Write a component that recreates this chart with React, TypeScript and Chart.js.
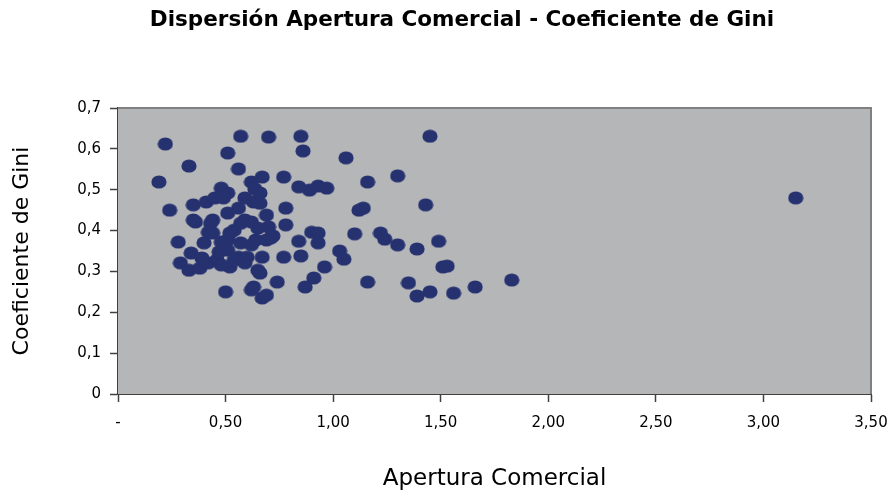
import React, { useEffect, useRef } from "react";
import { Chart, registerables } from "chart.js";

Chart.register(...registerables);

const titleText = "Dispersión Apertura Comercial - Coeficiente de Gini";
const xAxisTitle = "Apertura Comercial";
const yAxisTitle = "Coeficiente de Gini";

// Apertura Comercial (x) and Coeficiente de Gini (y)
const aperturaValues: number[] = [
  0.22, 0.19, 0.24, 0.33, 0.57, 0.70, 0.85, 0.86, 0.51, 0.56,
  1.06, 1.45, 1.30, 1.16, 0.67, 0.77, 0.84, 0.89, 0.93, 0.97,
  0.62, 0.636, 0.66, 0.48, 0.51, 1.43, 1.12, 1.14, 0.78, 0.63,
  0.66, 0.56, 0.35, 0.41, 0.45, 0.35, 0.44, 0.51, 0.59, 0.69,
  0.78, 0.70, 0.65, 0.72, 0.54, 0.42, 0.90, 0.93, 0.93, 0.84,
  1.10, 1.22, 1.24, 1.30, 1.39, 1.49, 1.03, 1.05, 1.51, 1.53,
  0.96, 0.91, 0.87, 1.16, 1.35, 1.39, 1.45, 1.56, 1.66, 1.83,
  3.15, 0.50, 0.62, 0.63, 0.67, 0.69, 0.66, 0.74, 0.67, 0.77,
  0.85, 0.28, 0.29, 0.33, 0.38, 0.42, 0.46, 0.34, 0.40, 0.48,
  0.51, 0.56, 0.59, 0.52, 0.57, 0.62, 0.62, 0.64, 0.71, 0.51,
  0.57, 0.69, 0.39, 0.47, 0.54, 0.60, 0.65, 0.48, 0.36, 0.43,
  0.44, 0.59, 0.49, 0.52,
];
const giniValues: number[] = [
  0.612, 0.519, 0.450, 0.558, 0.631, 0.629, 0.631, 0.595, 0.590, 0.551,
  0.578, 0.631, 0.534, 0.519, 0.531, 0.531, 0.507, 0.499, 0.509, 0.504,
  0.519, 0.502, 0.492, 0.504, 0.492, 0.463, 0.450, 0.455, 0.455, 0.470,
  0.467, 0.455, 0.463, 0.470, 0.480, 0.426, 0.426, 0.443, 0.426, 0.438,
  0.414, 0.409, 0.406, 0.387, 0.401, 0.396, 0.396, 0.394, 0.370, 0.374,
  0.392, 0.394, 0.379, 0.365, 0.355, 0.374, 0.350, 0.330, 0.311, 0.313,
  0.311, 0.284, 0.262, 0.274, 0.272, 0.240, 0.250, 0.247, 0.262, 0.279,
  0.480, 0.250, 0.255, 0.262, 0.235, 0.242, 0.296, 0.274, 0.335, 0.335,
  0.338, 0.372, 0.321, 0.303, 0.308, 0.321, 0.328, 0.345, 0.370, 0.372,
  0.352, 0.335, 0.321, 0.311, 0.418, 0.421, 0.365, 0.377, 0.382, 0.377,
  0.370, 0.377, 0.333, 0.348, 0.328, 0.335, 0.303, 0.316, 0.421, 0.418,
  0.394, 0.480, 0.480, 0.394,
];

const FONT = "'DejaVu Sans', Verdana, sans-serif";

function makeMarker(): HTMLCanvasElement {
  const c = document.createElement("canvas");
  c.width = 16;
  c.height = 14;
  const ctx = c.getContext("2d")!;
  ctx.fillStyle = "#263270";
  ctx.beginPath();
  ctx.ellipse(8, 7, 7.6, 6.6, 0, 0, Math.PI * 2);
  ctx.fill();
  return c;
}

const plotBg = {
  id: "plotBg",
  afterLayout(chart: any) {
    // shift the title block so that it is centred where the reference has it
    if (chart.titleBlock) {
      chart.titleBlock.left = 28;
      chart.titleBlock.right = 896;
    }
  },
  beforeDatasetsDraw(chart: any) {
    const { ctx, chartArea } = chart;
    const { left, top, right, bottom } = chartArea;
    ctx.save();
    ctx.fillStyle = "#b5b6b8";
    ctx.fillRect(left, top, right - left, bottom - top);
    ctx.strokeStyle = "#808080";
    ctx.lineWidth = 2;
    ctx.beginPath();
    ctx.moveTo(left, top);
    ctx.lineTo(right, top);
    ctx.lineTo(right, bottom);
    ctx.stroke();
    ctx.restore();
  },
};

export default function App() {
  const ref = useRef<HTMLCanvasElement>(null);
  useEffect(() => {
    document.body.style.margin = "0";
    const marker = makeMarker();
    const points = aperturaValues.map((x, i) => ({ x, y: giniValues[i] }));
    const chart = new Chart(ref.current!, {
      type: "scatter",
      data: {
        datasets: [
          {
            data: points,
            pointStyle: marker as any,
            pointRadius: 7,
            backgroundColor: "#263270",
            borderWidth: 0,
          },
        ],
      },
      options: {
        animation: false,
        responsive: false,
        devicePixelRatio: 1,
        layout: { padding: { left: 0, right: 25, top: 0, bottom: 0 } },
        plugins: {
          legend: { display: false },
          tooltip: { enabled: false },
          title: {
            display: true,
            text: titleText,
            color: "#000",
            font: { family: FONT, size: 21.5, weight: "bold" },
            padding: { top: 8, bottom: 74.2 },
          },
        },
        scales: {
          x: {
            type: "linear",
            min: 0,
            max: 3.5,
            afterFit: (s: any) => {
              s.height = 99;
              s.paddingLeft = 0;
              s.paddingRight = 0;
            },
            ticks: {
              stepSize: 0.5,
              padding: 12,
              color: "#000",
              font: { family: FONT, size: 15 },
              callback: (v: any) =>
                Number(v) === 0 ? "-" : Number(v).toFixed(2).replace(".", ","),
            },
            grid: {
              display: true,
              drawOnChartArea: false,
              drawTicks: true,
              tickLength: 8,
              tickColor: "#404040",
              tickWidth: 1.5,
            },
            border: { display: true, color: "#404040", width: 2 },
            title: {
              display: true,
              text: xAxisTitle,
              color: "#000",
              font: { family: FONT, size: 23 },
              padding: { top: 0, bottom: 0 },
            },
          },
          y: {
            type: "linear",
            min: 0,
            max: 0.7,
            afterFit: (s: any) => {
              s.width = 118;
            },
            ticks: {
              stepSize: 0.1,
              padding: 9,
              color: "#000",
              font: { family: FONT, size: 15 },
              callback: (v: any) =>
                Number(v) === 0 ? "0" : Number(v).toFixed(1).replace(".", ","),
            },
            grid: {
              display: true,
              drawOnChartArea: false,
              drawTicks: true,
              tickLength: 8,
              tickColor: "#404040",
              tickWidth: 1.5,
            },
            border: { display: true, color: "#404040", width: 2 },
            title: {
              display: true,
              text: yAxisTitle,
              color: "#000",
              font: { family: FONT, size: 22 },
              padding: { top: 9, bottom: 0 },
            },
          },
        },
      },
      plugins: [plotBg],
    });
    return () => chart.destroy();
  }, []);
  return (
    <div style={{ width: 896, height: 493, background: "#fff" }}>
      <canvas ref={ref} width={896} height={493} />
    </div>
  );
}
